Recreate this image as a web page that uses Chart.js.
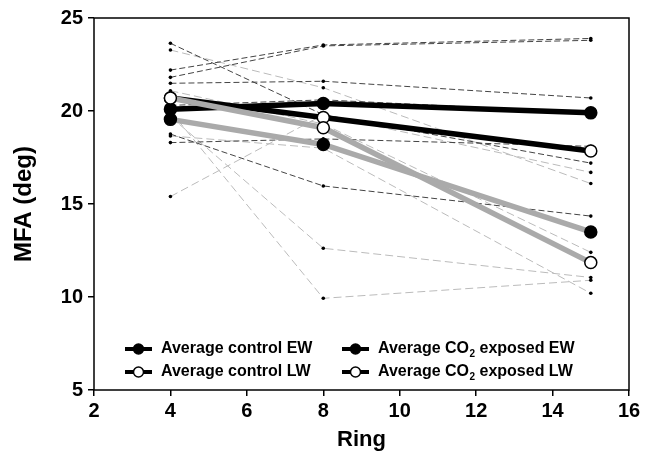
<!DOCTYPE html>
<html>
<head>
<meta charset="utf-8">
<script src="https://cdn.jsdelivr.net/npm/chart.js@4.4.0/dist/chart.umd.min.js"></script>
<style>
  html, body { margin: 0; padding: 0; background: #fff; }
</style>
</head>
<body>
<canvas id="chart" width="648" height="455"></canvas>
<script>
// ring positions sampled
var rings = [4, 8, 15];

// averages (MFA, deg)
var controlEW = [20.1, 20.4, 19.9];
var controlLW = [20.7, 19.65, 17.85];
var co2EW = [19.55, 18.2, 13.5];
var co2LW = [20.7, 19.1, 11.85];

// individual trees, control (dark dashed)
var controlTrees = [
  [23.64, 19.8, 17.2],
  [22.2, 23.55, 23.9],
  [21.49, 21.6, 20.7],
  [18.76, 15.97, 14.35],
  [18.3, 18.5, 18.1],
  [21.81, 23.5, 23.8],
  [20.3, 20.6, 19.9]
];

// individual trees, CO2 exposed (light dashed)
var co2Trees = [
  [23.28, 21.25, 16.1],
  [21.09, 19.3, 12.4],
  [19.7, 12.62, 11.05],
  [20.0, 9.93, 10.9],
  [15.4, 19.8, 16.7],
  [18.66, 18.0, 10.2]
];

var yTicks = [5, 10, 15, 20, 25];
var xTicks = [2, 4, 6, 8, 10, 12, 14, 16];

var FONT = '"Liberation Sans", Arial, sans-serif';

function toPoints(values) {
  return rings.map(function (r, i) { return { x: r, y: values[i] }; });
}

function treeSet(values, color, dash) {
  return {
    data: toPoints(values),
    borderColor: color,
    borderWidth: 1,
    borderDash: dash,
    pointRadius: 1.8,
    pointBackgroundColor: '#000',
    pointBorderWidth: 0,
    order: 2
  };
}

function avgSet(values, lineColor, fill) {
  return {
    data: toPoints(values),
    borderColor: lineColor,
    borderWidth: 5.5,
    pointRadius: 6,
    pointBackgroundColor: fill,
    pointBorderColor: '#000',
    pointBorderWidth: 1.5,
    order: 1
  };
}

var datasets = [];
controlTrees.forEach(function (t) { datasets.push(treeSet(t, '#444444', [6, 3])); });
co2Trees.forEach(function (t) { datasets.push(treeSet(t, '#bbbbbb', [8, 4])); });
datasets.push(avgSet(co2EW, '#aaaaaa', '#000'));
datasets.push(avgSet(co2LW, '#aaaaaa', '#fff'));
datasets.push(avgSet(controlEW, '#000', '#000'));
datasets.push(avgSet(controlLW, '#000', '#fff'));

// legend drawn inside the plot, two columns
var legendItems = [
  { pre: 'Average control EW', sub: '', post: '', fill: '#000', x: 125, y: 349 },
  { pre: 'Average CO', sub: '2', post: ' exposed EW', fill: '#000', x: 342, y: 349 },
  { pre: 'Average control LW', sub: '', post: '', fill: '#fff', x: 125, y: 372 },
  { pre: 'Average CO', sub: '2', post: ' exposed LW', fill: '#fff', x: 342, y: 372 }
];

var framePlugin = {
  id: 'frame',
  afterDraw: function (chart) {
    var ctx = chart.ctx, a = chart.chartArea;
    ctx.save();
    ctx.strokeStyle = '#000';
    ctx.lineWidth = 1.5;
    ctx.strokeRect(a.left, a.top, a.right - a.left, a.bottom - a.top);

    legendItems.forEach(function (it) {
      ctx.strokeStyle = '#000';
      ctx.lineWidth = 4;
      ctx.beginPath();
      ctx.moveTo(it.x, it.y);
      ctx.lineTo(it.x + 27, it.y);
      ctx.stroke();
      ctx.beginPath();
      ctx.arc(it.x + 13.5, it.y, 5, 0, Math.PI * 2);
      ctx.fillStyle = it.fill;
      ctx.fill();
      ctx.lineWidth = 1.5;
      ctx.stroke();

      ctx.fillStyle = '#000';
      ctx.textBaseline = 'middle';
      ctx.font = 'bold 16px ' + FONT;
      var tx = it.x + 36;
      ctx.fillText(it.pre, tx, it.y);
      tx += ctx.measureText(it.pre).width;
      if (it.sub) {
        ctx.font = 'bold 10px ' + FONT;
        ctx.fillText(it.sub, tx + 0.5, it.y + 5);
        tx += ctx.measureText(it.sub).width + 0.5;
        ctx.font = 'bold 16px ' + FONT;
        ctx.fillText(it.post, tx, it.y);
      }
    });
    ctx.restore();
  }
};

var tickFont = { family: FONT, size: 20, weight: 'bold' };

new Chart(document.getElementById('chart').getContext('2d'), {
  type: 'line',
  data: { datasets: datasets },
  plugins: [framePlugin],
  options: {
    responsive: false,
    animation: false,
    layout: { padding: { top: 18, right: 19, left: 0, bottom: 0 } },
    plugins: { legend: { display: false }, tooltip: { enabled: false } },
    scales: {
      x: {
        type: 'linear',
        min: 2,
        max: 16,
        afterBuildTicks: function (s) { s.ticks = xTicks.map(function (v) { return { value: v }; }); },
        afterFit: function (s) { s.height = 65; },
        grid: { drawOnChartArea: false, drawTicks: true, tickLength: 6, color: '#000', lineWidth: 1.5 },
        border: { display: false },
        ticks: { color: '#000', font: tickFont, padding: 3, maxRotation: 0 },
        title: { display: true, text: 'Ring', color: '#000', padding: { top: 0, bottom: 2 },
          font: { family: FONT, size: 22, weight: 'bold' } }
      },
      y: {
        type: 'linear',
        min: 5,
        max: 25,
        afterBuildTicks: function (s) { s.ticks = yTicks.map(function (v) { return { value: v }; }); },
        afterFit: function (s) { s.width = 94; },
        grid: { drawOnChartArea: false, drawTicks: true, tickLength: 6, color: '#000', lineWidth: 1.5 },
        border: { display: false },
        ticks: { color: '#000', font: tickFont, padding: 5 },
        title: { display: true, text: 'MFA (deg)', color: '#000', padding: { top: 10, bottom: 0 },
          font: { family: FONT, size: 24, weight: 'bold' } }
      }
    }
  }
});
</script>
</body>
</html>
